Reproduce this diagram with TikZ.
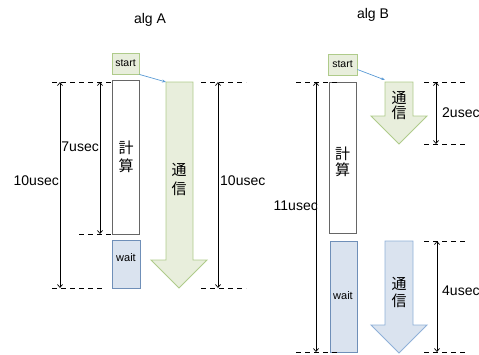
\documentclass[tikz,border=0pt]{standalone}
\usepackage{fontspec}
\setmainfont{Liberation Sans}
\newfontfamily\jpfont{Noto Sans CJK JP}
\usetikzlibrary{arrows.meta}
\definecolor{gfill}{HTML}{E8EEDC}
\definecolor{gline}{HTML}{AFCB8A}
\definecolor{bfill}{HTML}{DAE3EF}
\definecolor{bline}{HTML}{6F8FB8}
\definecolor{bline2}{HTML}{8FB0D8}
\definecolor{conn}{HTML}{5B9BD5}
\begin{document}
\begin{tikzpicture}[x=1pt,y=-1pt,
  greenbox/.style={draw=gline,fill=gfill,line width=0.9pt,inner sep=0pt,font=\fontsize{10.5}{12}\selectfont},
  calcbox/.style={draw=black!60,fill=white,line width=0.9pt,inner sep=0pt},
  waitbox/.style={draw=bline,fill=bfill,line width=0.9pt,inner sep=0pt},
  waittext/.style={font=\fontsize{11}{12}\selectfont,inner sep=0pt},
  commgreen/.style={draw=gline,fill=gfill,line width=0.9pt},
  commblue/.style={draw=bline2,fill=bfill,line width=0.9pt},
  jp/.style={font=\jpfont\fontsize{15}{16}\selectfont,inner sep=0pt},
  lbl/.style={font=\fontsize{14}{16}\selectfont,inner sep=0pt},
  dim/.style={draw=black,line width=0.7pt,{Straight Barb[length=3pt,width=5pt]}-{Straight Barb[length=3pt,width=5pt]}},
  guide/.style={draw=black,line width=0.8pt,dash pattern=on 5pt off 4pt},
  startconn/.style={draw=conn,line width=0.7pt,-{Stealth[length=4pt,width=3pt]}}
]
\useasboundingbox (0,0) rectangle (479,354);

% titles
\node[lbl] (titleA) at (150,20) {alg A};
\node[lbl] (titleB) at (373,15) {alg B};

% ---------- alg A ----------
\node[greenbox,minimum width=27pt,minimum height=21pt] (startA) at (125.5,63.5) {start};
\node[calcbox,minimum width=27pt,minimum height=154pt] (calcA) at (125.5,157) {};
\node[jp] (calcAt1) at (126,148) {計};
\node[jp] (calcAt2) at (126,166) {算};
\node[waitbox,minimum width=28pt,minimum height=48pt,anchor=north] (waitA) at (126,240) {};
\node[waittext] (waitAt) at (126,258) {wait};

\draw[commgreen] (166,82) -- (193,82) -- (193,260) -- (207,260) -- (179,288) -- (151,260) -- (166,260) -- cycle;
\coordinate (commAtop) at (166,82);
\node[jp] (commAt1) at (179,170) {通};
\node[jp] (commAt2) at (179,189) {信};
\draw[startconn] (startA.south east) -- (commAtop);

\coordinate (a0l) at (52,82);  \coordinate (a0r) at (112,82);
\coordinate (a1l) at (79,234); \coordinate (a1r) at (111,234);
\coordinate (a2l) at (52,288); \coordinate (a2r) at (105,288);
\coordinate (a3l) at (201,82); \coordinate (a3r) at (246,82);
\coordinate (a4l) at (201,288);\coordinate (a4r) at (246,288);
\draw[guide] (a0l) -- (a0r);
\draw[guide] (a1l) -- (a1r);
\draw[guide] (a2l) -- (a2r);
\draw[guide] (a3l) -- (a3r);
\draw[guide] (a4l) -- (a4r);

\coordinate (dA1t) at (60,82);  \coordinate (dA1b) at (60,288);
\coordinate (dA2t) at (100,82); \coordinate (dA2b) at (100,234);
\coordinate (dA3t) at (218,82); \coordinate (dA3b) at (218,288);
\draw[dim] (dA1t) -- (dA1b);
\draw[dim] (dA2t) -- (dA2b);
\draw[dim] (dA3t) -- (dA3b);
\node[lbl,anchor=east] (lA1) at (59,181) {10usec};
\node[lbl,anchor=east] (lA2) at (99,147) {7usec};
\node[lbl,anchor=west] (lA3) at (220,181) {10usec};

% ---------- alg B ----------
\node[greenbox,minimum width=29pt,minimum height=21pt] (startB) at (342.5,64.5) {start};
\node[calcbox,minimum width=27pt,minimum height=151pt] (calcB) at (342.5,157.5) {};
\node[jp] (calcBt1) at (342.5,154) {計};
\node[jp] (calcBt2) at (342.5,170) {算};
\node[waitbox,minimum width=27pt,minimum height=111pt,anchor=north] (waitB) at (343.5,241) {};
\node[waittext] (waitBt) at (343,296) {wait};

\draw[commgreen] (385,82) -- (413,82) -- (413,116) -- (427,116) -- (399,144) -- (371,116) -- (385,116) -- cycle;
\coordinate (commB1top) at (385,80);
\node[jp] (commB1t1) at (399,98) {通};
\node[jp] (commB1t2) at (399,113) {信};
\draw[startconn] (startB.east) ++(0,5) coordinate (sBe) (sBe) -- (commB1top);

\draw[commblue] (385,241) -- (413,241) -- (413,325) -- (427,325) -- (399,353) -- (371,325) -- (385,325) -- cycle;
\node[jp] (commB2t1) at (399,284) {通};
\node[jp] (commB2t2) at (399,301) {信};

\coordinate (b0l) at (296,82);  \coordinate (b0r) at (337,82);
\coordinate (b1l) at (296,352); \coordinate (b1r) at (337,352);
\coordinate (b2l) at (424,82);  \coordinate (b2r) at (468,82);
\coordinate (b3l) at (424,144); \coordinate (b3r) at (468,144);
\coordinate (b4l) at (424,241); \coordinate (b4r) at (468,241);
\coordinate (b5l) at (424,352); \coordinate (b5r) at (468,352);
\draw[guide] (b0l) -- (b0r);
\draw[guide] (b1l) -- (b1r);
\draw[guide] (b2l) -- (b2r);
\draw[guide] (b3l) -- (b3r);
\draw[guide] (b4l) -- (b4r);
\draw[guide] (b5l) -- (b5r);

\coordinate (dB1t) at (316,82);  \coordinate (dB1b) at (316,352);
\coordinate (dB2t) at (436,82);  \coordinate (dB2b) at (436,144);
\coordinate (dB3t) at (437,241); \coordinate (dB3b) at (437,352);
\draw[dim] (dB1t) -- (dB1b);
\draw[dim] (dB2t) -- (dB2b);
\draw[dim] (dB3t) -- (dB3b);
\node[lbl,anchor=east] (lB1) at (318,206) {11usec};
\node[lbl,anchor=west] (lB2) at (442,113) {2usec};
\node[lbl,anchor=west] (lB3) at (442,291) {4usec};
\end{tikzpicture}
\end{document}
